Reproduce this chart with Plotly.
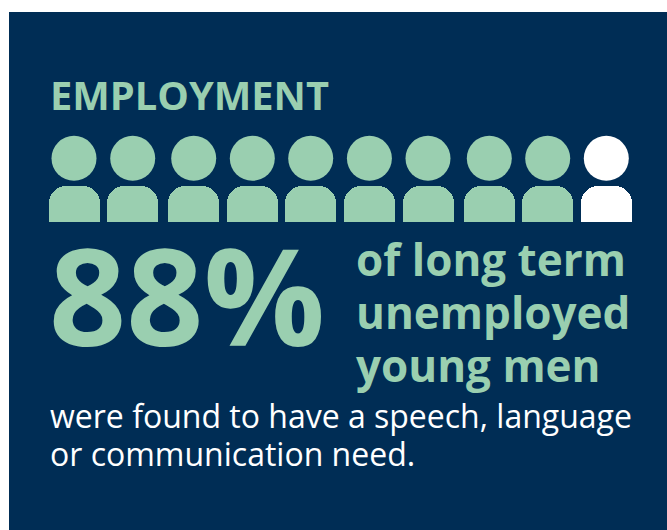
import plotly.graph_objects as go

# Pictogram data: ten people, nine of them in the highlighted group
people = list(range(10))
people_states = ["need"] * 9 + ["other"]
headline_value = "88%"
heading = "EMPLOYMENT"
side_lines = ["of long term", "unemployed", "young men"]
body_lines = ["were found to have a speech, language", "or communication need."]

NAVY = "#002d55"
GREEN = "#9acfb0"
WHITE = "#ffffff"
FONT = "Open Sans"
HEIGHT = 530
SHOULDER_BASE = HEIGHT - 222.3

# Horizontal slot of each figure along the row
slots = [74, 132.7, 193.7, 252.3, 310.7, 369.4, 428, 489.3, 547.7, 606.3]
xs = [slots[i] for i in people]
colors = [GREEN if s == "need" else WHITE for s in people_states]

fig = go.Figure()

# Shoulders: bars on a shifted axis so they start at zero with only the far corners rounded
fig.add_trace(go.Bar(
    x=xs, y=[36.3] * len(xs), width=[51] * len(xs), yaxis="y2",
    marker=dict(color=colors, line=dict(width=0), cornerradius=17),
    hoverinfo="skip", showlegend=False,
))
# Heads: circular markers
fig.add_trace(go.Scatter(
    x=xs, y=[HEIGHT - 158.3] * len(xs), mode="markers",
    marker=dict(size=45, color=colors, line=dict(width=0)),
    hoverinfo="skip", showlegend=False,
))


def label(text, x, y, size, color, weight):
    fig.add_annotation(
        x=x, y=HEIGHT - y, xref="x", yref="y", text=text, showarrow=False,
        xanchor="left", yanchor="middle", align="left",
        font=dict(family=FONT, size=size, color=color, weight=weight),
    )


label(heading, 47.5, 94, 39.8, GREEN, 700)
label(headline_value, 47, 294, 135, GREEN, 700)
for line, y in zip(side_lines, [259, 312, 365]):
    label(line, 354, y, 44, GREEN, 700)
for line, y in zip(body_lines, [415.5, 453.5]):
    label(line, 48, y, 32, WHITE, 400)

fig.update_layout(
    width=667, height=HEIGHT, autosize=False,
    margin=dict(l=0, r=0, t=0, b=0),
    paper_bgcolor=WHITE, plot_bgcolor=WHITE,
    bargap=0,
    xaxis=dict(range=[0, 667], visible=False, fixedrange=True),
    yaxis=dict(range=[0, HEIGHT], visible=False, fixedrange=True),
    yaxis2=dict(range=[-SHOULDER_BASE, HEIGHT - SHOULDER_BASE], overlaying="y",
                visible=False, fixedrange=True),
    shapes=[dict(type="rect", xref="x", yref="y", x0=9, x1=667, y0=0, y1=HEIGHT - 12,
                 fillcolor=NAVY, line=dict(width=0), layer="below")],
)

fig.write_html("out.html", config={"displayModeBar": False})
